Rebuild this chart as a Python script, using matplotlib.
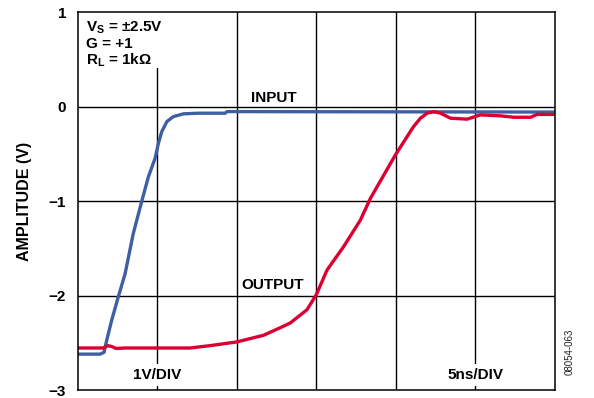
import matplotlib
matplotlib.use("Agg")
import matplotlib.pyplot as plt
from matplotlib.patches import Rectangle

plt.rcParams["font.family"] = ["Liberation Sans", "DejaVu Sans"]
plt.rcParams["mathtext.fontset"] = "custom"
plt.rcParams["mathtext.rm"] = "Liberation Sans:bold"
plt.rcParams["mathtext.bf"] = "Liberation Sans:bold"
plt.rcParams["mathtext.it"] = "Liberation Sans:bold"

# input step (ns, V)
input_t = [0.0, 1.39, 1.64, 1.81, 2.12, 2.54, 2.96, 3.48, 4.01, 4.43, 4.85,
           5.06, 5.27, 5.59, 6.00, 6.63, 7.58, 9.26, 9.38, 30.0]
input_v = [-2.62, -2.62, -2.60, -2.47, -2.26, -2.01, -1.77, -1.34, -1.00, -0.74,
           -0.544, -0.385, -0.262, -0.156, -0.103, -0.074, -0.067, -0.067,
           -0.05, -0.055]

# amplifier output (ns, V)
output_t = [0.0, 1.57, 1.89, 2.14, 2.39, 2.96, 7.05, 8.31, 10.0, 11.67, 12.72,
            13.35, 14.4, 14.99, 15.66, 16.71, 17.76, 18.39, 19.96, 20.91, 21.1,
            21.54, 21.96, 22.37, 22.8, 23.43, 24.48, 25.31, 26.57, 27.41, 28.46,
            28.88, 30.0]
output_v = [-2.555, -2.555, -2.53, -2.54, -2.56, -2.555, -2.555, -2.53, -2.49,
            -2.42, -2.34, -2.29, -2.15, -1.99, -1.73, -1.48, -1.20, -0.97, -0.51,
            -0.26, -0.21, -0.12, -0.067, -0.05, -0.067, -0.12, -0.13, -0.085,
            -0.095, -0.11, -0.11, -0.08, -0.08]

y_ticks = [1, 0, -1, -2, -3]
x_grid = [5, 10, 15, 20, 25]

fig = plt.figure(figsize=(5.94, 3.98), dpi=100)
ax = fig.add_axes([0.1313, 0.0201, 0.8030, 0.9485])
ax.set_xlim(0, 30)
ax.set_ylim(-3, 1)

for x in x_grid:
    ax.axvline(x, color="black", lw=1.0, zorder=1)
for y in y_ticks[1:-1]:
    ax.axhline(y, color="black", lw=1.0, zorder=1)

ax.plot(input_t, input_v, color="#3D5FA3", lw=2.4, zorder=3)
ax.plot(output_t, output_v, color="#DC0032", lw=2.4, zorder=4)

ax.set_xticks([])
ax.set_yticks(y_ticks)
ax.set_yticklabels(["1", "0", "\u22121", "\u22122", "\u22123"],
                   fontsize=11, fontweight="bold")
ax.tick_params(axis="y", length=0, pad=8.5)
for s in ax.spines.values():
    s.set_linewidth(1.1)
    s.set_zorder(6)
ax.set_ylabel("AMPLITUDE (V)", fontsize=11.5, fontweight="bold", labelpad=12)

# conditions block, masking the grid behind it
ax.add_patch(Rectangle((0, 0.41), 5.4, 0.6, facecolor="white",
                       edgecolor="none", zorder=2))
cond = [r"V$_{\mathrm{S}}$ = ±2.5V", "G = +1", r"R$_{\mathrm{L}}$ = 1kΩ"]
for i, s in enumerate(cond):
    ax.text(0.5, 0.795 - 0.172 * i, s, fontsize=11, fontweight="bold",
            va="baseline", ha="left", zorder=5)

ax.text(10.85, 0.05, "INPUT", fontsize=11, fontweight="bold",
        va="baseline", ha="left", zorder=5)
ax.text(10.3, -1.93, "OUTPUT", fontsize=11, fontweight="bold",
        va="baseline", ha="left", zorder=5)

box = dict(facecolor="white", edgecolor="none", pad=3)
ax.text(5.0, -2.88, "1V/DIV", fontsize=11, fontweight="bold", ha="center",
        va="baseline", bbox=box, zorder=5)
ax.text(25.0, -2.88, "5ns/DIV", fontsize=11, fontweight="bold", ha="center",
        va="baseline", bbox=box, zorder=5)

fig.text(0.9595, 0.115, "08054-063", rotation=90, fontsize=7,
         ha="center", va="center", color="#222222")

fig.savefig("out.png", dpi=100)
